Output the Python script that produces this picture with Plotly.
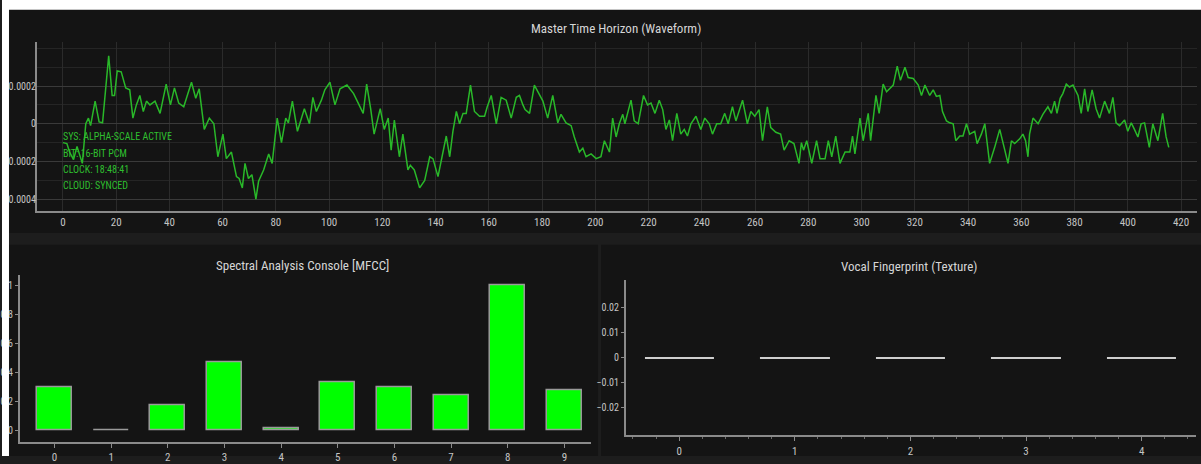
import plotly.graph_objects as go

W, H = 1201, 464

# ---- waveform (time index vs amplitude) ----
wave_t = [
    0.0, 1.5, 2.5, 4.0, 5.3, 7.3, 8.6, 9.6, 10.4, 12.1, 13.6, 14.9, 17.2, 18.5, 19.4,
    20.4, 21.9, 23.6, 25.1, 26.3, 27.6, 28.9, 30.2, 31.4, 32.7, 34.6, 36.5, 38.8, 40.4,
    41.9, 43.5, 45.4, 48.3, 49.9, 51.2, 53.1, 55.0, 56.7, 58.2, 60.1, 61.4, 63.3, 65.2,
    66.2, 67.4, 68.4, 69.7, 71.0, 72.5, 73.5, 75.4, 77.3, 78.6, 80.5, 82.1, 83.7, 84.7,
    86.2, 88.1, 89.4, 90.7, 92.6, 93.9, 95.2, 97.1, 98.4, 100.3, 102.2, 104.1, 106.7,
    109.2, 112.8, 114.1, 115.6, 116.9, 119.2, 120.7, 122.2, 123.3, 124.5, 126.4, 127.7,
    129.6, 130.5, 132.0, 134.0, 135.9, 137.8, 139.0, 140.9, 142.8, 144.0, 145.3, 146.5,
    147.8, 149.0, 150.3, 151.5, 153.1, 154.6, 156.5, 158.4, 159.4, 160.9, 162.8, 164.6,
    166.5, 168.4, 170.3, 171.5, 172.8, 173.6, 175.3, 177.1, 178.4, 180.3, 182.1, 184.0,
    185.9, 187.1, 189.0, 190.9, 192.1, 194.0, 195.3, 196.5, 198.4, 200.3, 202.1, 203.4,
    205.3, 206.5, 207.8, 209.0, 210.3, 211.1, 213.4, 214.6, 216.1, 218.1, 219.6, 220.9,
    222.4, 224.0, 225.3, 226.5, 227.8, 229.0, 230.6, 232.1, 233.4, 234.6, 235.9, 237.8,
    239.6, 241.1, 242.8, 244.0, 245.6, 247.1, 248.6, 249.9, 251.5, 252.8, 255.3, 257.1,
    258.4, 259.9, 261.5, 262.8, 264.6, 265.9, 267.8, 269.6, 270.9, 272.8, 274.6, 276.5,
    277.4, 278.2, 279.4, 281.3, 283.1, 284.4, 286.3, 287.5, 288.8, 290.3, 291.9, 293.8,
    295.6, 296.6, 297.5, 299.4, 300.6, 302.5, 303.4, 305.4, 306.6, 308.1, 309.4, 310.6,
    311.9, 313.4, 314.6, 316.3, 317.5, 319.4, 321.3, 322.5, 323.8, 325.6, 326.9, 328.1,
    329.4, 330.4, 331.9, 333.1, 334.4, 335.4, 336.9, 338.1, 339.4, 340.6, 342.5, 343.4,
    345.0, 346.3, 348.1, 350.0, 351.9, 353.8, 355.0, 356.3, 357.5, 359.4, 360.6, 361.6,
    362.5, 363.1, 364.4, 366.3, 368.1, 370.0, 371.3, 372.5, 373.4, 374.6, 375.6, 376.9,
    378.1, 379.4, 381.3, 382.5, 383.8, 385.0, 386.6, 388.1, 389.4, 391.3, 393.1, 394.4,
    395.6, 396.9, 398.8, 400.0, 401.3, 402.5, 403.8, 405.0, 406.3, 408.1, 409.4, 411.3,
    413.1, 414.4, 415.4,
]
wave_amp = [
    -1.0e-4, -1.05e-4, -1.5e-4, -1.9e-4, -1.2e-4, -2.1e-4, 0.0, 0.3e-4, -0.1e-4, 1.2e-4,
    0.1e-4, 0.05e-4, 3.6e-4, 1.5e-4, 1.5e-4, 2.8e-4, 2.75e-4, 1.9e-4, 1.8e-4, 0.3e-4,
    1.0e-4, 1.5e-4, 0.65e-4, 1.2e-4, 1.0e-4, 1.2e-4, 0.55e-4, 2.1e-4, 1.0e-4, 1.9e-4,
    1.1e-4, 0.9e-4, 2.2e-4, 1.35e-4, 1.85e-4, -0.3e-4, 0.3e-4, 0.0, -1.75e-4, -0.55e-4,
    -1.85e-4, -1.5e-4, -2.8e-4, -2.9e-4, -3.4e-4, -2.1e-4, -2.9e-4, -2.7e-4, -4.0e-4,
    -3.05e-4, -2.45e-4, -1.6e-4, -2.1e-4, 0.3e-4, -1.0e-4, 0.3e-4, 0.05e-4, 1.2e-4,
    -0.4e-4, 0.15e-4, 0.8e-4, 0.0, 1.4e-4, 0.65e-4, 1.25e-4, 1.8e-4, 2.2e-4, 1.0e-4,
    1.85e-4, 2.05e-4, 1.6e-4, 0.55e-4, 2.1e-4, 0.8e-4, -0.55e-4, 0.8e-4, -0.3e-4, 0.3e-4,
    -1.4e-4, 0.2e-4, -1.75e-4, -0.55e-4, -2.45e-4, -2.2e-4, -2.45e-4, -3.4e-4, -3.0e-4,
    -1.75e-4, -1.85e-4, -2.8e-4, -1.4e-4, -0.65e-4, -1.75e-4, -0.4e-4, 0.65e-4, 0.0,
    0.55e-4, 0.55e-4, 2.05e-4, 0.65e-4, 0.4e-4, 0.4e-4, 0.9e-4, 1.5e-4, 0.0, 1.4e-4,
    1.25e-4, 0.3e-4, 1.4e-4, 1.5e-4, 1.0e-4, 0.75e-4, 0.55e-4, 2.05e-4, 1.7e-4, 1.2e-4,
    0.3e-4, 1.5e-4, 0.05e-4, 0.5e-4, 0.05e-4, -0.1e-4, -0.7e-4, -1.5e-4, -1.3e-4,
    -1.75e-4, -1.6e-4, -1.85e-4, -1.75e-4, -0.9e-4, -1.5e-4, 0.3e-4, -0.7e-4, 0.0,
    0.5e-4, 0.0, 1.25e-4, 0.15e-4, 0.0, 1.5e-4, 1.0e-4, 1.1e-4, 0.55e-4, 1.25e-4,
    0.75e-4, -0.3e-4, 0.2e-4, -0.9e-4, 0.55e-4, -0.55e-4, -0.3e-4, -0.65e-4, 0.0,
    0.4e-4, -0.3e-4, 0.3e-4, 0.0, -0.55e-4, 0.0, 0.0, 0.55e-4, 0.0, 0.9e-4, 0.15e-4,
    1.25e-4, 0.0, 0.65e-4, 0.4e-4, 0.75e-4, -0.9e-4, 0.9e-4, -0.2e-4, -0.45e-4,
    -0.55e-4, -1.4e-4, -0.9e-4, -1.05e-4, -2.1e-4, -1.0e-4, -1.4e-4, -0.9e-4, -2.1e-4,
    -0.9e-4, -1.85e-4, -1.85e-4, -0.9e-4, -1.75e-4, -0.65e-4, -2.1e-4, -1.5e-4, -1.5e-4,
    -0.65e-4, -1.6e-4, 0.3e-4, -0.9e-4, 0.55e-4, -0.9e-4, 1.5e-4, 0.55e-4, 2.1e-4,
    1.7e-4, 1.85e-4, 2.05e-4, 3.05e-4, 2.3e-4, 3.0e-4, 2.45e-4, 2.4e-4, 2.05e-4, 1.5e-4,
    2.05e-4, 1.5e-4, 1.8e-4, 1.45e-4, 1.5e-4, 0.65e-4, 0.15e-4, 0.05e-4, 0.0, -0.9e-4,
    -0.65e-4, -0.65e-4, 0.0, -0.55e-4, -0.4e-4, -1.05e-4, -0.55e-4, 0.0, -2.1e-4,
    -1.25e-4, -0.3e-4, -1.4e-4, -2.1e-4, -0.9e-4, -1.05e-4, -0.8e-4, -0.55e-4, -0.9e-4,
    -1.75e-4, -0.55e-4, 0.3e-4, 0.0, 0.5e-4, 0.9e-4, 0.55e-4, 1.2e-4, 0.55e-4, 1.35e-4,
    1.6e-4, 2.1e-4, 1.95e-4, 2.05e-4, 1.5e-4, 0.55e-4, 1.85e-4, 0.65e-4, 1.8e-4, 0.8e-4,
    0.3e-4, 1.2e-4, 0.55e-4, 1.4e-4, 0.05e-4, -0.1e-4, 0.2e-4, -0.4e-4, 0.05e-4,
    -0.3e-4, -0.7e-4, 0.0, 0.05e-4, -1.25e-4, 0.0, -0.9e-4, 0.55e-4, -0.7e-4, -1.25e-4,
]
wave_ticks = [-4e-4, -2e-4, 0, 2e-4]

# ---- MFCC coefficients ----
mfcc_idx = [0, 1, 2, 3, 4, 5, 6, 7, 8, 9]
mfcc_val = [0.30, 0.005, 0.175, 0.47, 0.016, 0.33, 0.30, 0.245, 1.0, 0.28]

# ---- texture bins ----
texture_idx = [0, 1, 2, 3, 4]
texture_val = [0, 0, 0, 0, 0]
texture_ticks = [-0.02, -0.01, 0, 0.01, 0.02]

status_lines = ["SYS: ALPHA-SCALE ACTIVE", "BIT: 16-BIT PCM", "CLOCK: 18:48:41", "CLOUD: SYNCED"]

FONT = "Roboto Condensed, DejaVu Sans Condensed, sans-serif"
TICK = dict(family=FONT, size=11, color="#c4c4c4")
YTICK = dict(family=FONT, size=10, color="#c4c4c4")
TITLE = dict(family=FONT, size=13, color="#d6d6d6")
PANEL = "#141414"
GAP = "#1d1d1d"
AXLINE = "#8a8a8a"


def px(x):
    return x / W


def py(y):
    return 1 - y / H


fig = go.Figure()

fig.add_trace(go.Scatter(
    x=wave_t, y=wave_amp, mode="lines",
    line=dict(color="#29b829", width=1.5),
    xaxis="x", yaxis="y", showlegend=False,
))
fig.add_trace(go.Bar(
    x=mfcc_idx, y=mfcc_val, width=0.62,
    marker=dict(color="#00ff00", line=dict(color="#9a9a9a", width=1.5)),
    xaxis="x2", yaxis="y2", showlegend=False,
))
fig.add_trace(go.Bar(
    x=texture_idx, y=texture_val, width=0.6,
    marker=dict(color="#cfcfcf", line=dict(color="#cfcfcf", width=2)),
    xaxis="x3", yaxis="y3", showlegend=False,
))

shapes = [
    # panel backgrounds
    dict(type="rect", xref="paper", yref="paper", x0=px(7), x1=px(W), y0=py(237), y1=py(10),
         fillcolor=PANEL, line_width=0, layer="below"),
    dict(type="rect", xref="paper", yref="paper", x0=px(7), x1=px(597), y0=py(H), y1=py(249),
         fillcolor=PANEL, line_width=0, layer="below"),
    dict(type="rect", xref="paper", yref="paper", x0=px(600), x1=px(W), y0=py(H), y1=py(249),
         fillcolor=PANEL, line_width=0, layer="below"),
    # page frame outside the dashboard
    dict(type="rect", xref="paper", yref="paper", x0=0, x1=1, y0=py(10), y1=1,
         fillcolor="#ffffff", line_width=0, layer="above"),
    dict(type="rect", xref="paper", yref="paper", x0=0, x1=px(7), y0=0, y1=1,
         fillcolor="#ffffff", line_width=0, layer="above"),
]

annotations = [
    dict(text="Master Time Horizon (Waveform)", xref="paper", yref="paper",
         x=px(615), y=py(29), showarrow=False, font=TITLE, xanchor="center", yanchor="middle"),
    dict(text="Spectral Analysis Console [MFCC]", xref="paper", yref="paper",
         x=px(301), y=py(270), showarrow=False, font=TITLE, xanchor="center", yanchor="middle"),
    dict(text="Vocal Fingerprint (Texture)", xref="paper", yref="paper",
         x=px(909), y=py(271), showarrow=False, font=TITLE, xanchor="center", yanchor="middle"),
]
for i, line in enumerate(status_lines):
    annotations.append(dict(
        text=line, xref="paper", yref="paper", x=px(59), y=py(139 + 16.7 * i),
        showarrow=False, xanchor="left", yanchor="middle",
        font=dict(family=FONT, size=10, color="#2fbf2f"),
    ))

fig.update_layout(
    width=W, height=H,
    margin=dict(l=0, r=0, t=0, b=0),
    paper_bgcolor=GAP, plot_bgcolor="rgba(0,0,0,0)",
    bargap=0, showlegend=False,
    shapes=shapes, annotations=annotations,
    # waveform axes
    xaxis=dict(domain=[px(35), px(1197)], range=[-9.75, 426], anchor="y",
               tick0=0, dtick=20, showgrid=True, gridcolor="#2b2b2b", gridwidth=1,
               showline=True, linecolor=AXLINE, linewidth=2, zeroline=False,
               ticks="", tickfont=TICK),
    xaxis4=dict(domain=[px(35), px(1197)], range=[-9.75, 426], anchor="y", overlaying="x",
                tick0=0, dtick=200, showgrid=True, gridcolor="#4a4a4a", gridwidth=1,
                showticklabels=False, showline=False, zeroline=False, ticks=""),
    yaxis=dict(domain=[py(215), py(43)], range=[-4.64e-4, 4.32e-4], anchor="x",
               tickvals=wave_ticks, tickformat=".4~f", showgrid=True, gridcolor="#3a3a3a",
               minor=dict(dtick=1e-4, tick0=0, showgrid=True, gridcolor="#252525"),
               showline=True, linecolor=AXLINE, linewidth=2, zeroline=False,
               ticks="", tickfont=YTICK, ticklabelstandoff=-3),
    # MFCC axes
    xaxis2=dict(domain=[px(18), px(590)], range=[-0.61, 9.47], anchor="y2",
                tick0=0, dtick=1, showgrid=False, zeroline=False,
                showline=True, linecolor=AXLINE, linewidth=2,
                ticks="outside", ticklen=4, tickcolor=AXLINE, tickfont=TICK),
    yaxis2=dict(domain=[py(450), py(280)], range=[-0.081, 1.068], anchor="x2",
                tick0=0, dtick=0.2, showgrid=False, zeroline=False,
                showline=True, linecolor=AXLINE, linewidth=2,
                ticks="outside", ticklen=3, tickcolor=AXLINE, tickfont=YTICK),
    # texture axes
    xaxis3=dict(domain=[px(625), px(1196)], range=[-0.46, 4.47], anchor="y3",
                tick0=0, dtick=1, showgrid=False, zeroline=False,
                showline=True, linecolor=AXLINE, linewidth=2,
                ticks="outside", ticklen=4, tickcolor=AXLINE, tickfont=TICK,
                minor=dict(dtick=0.2, ticks="outside", ticklen=2, tickcolor="#6a6a6a")),
    yaxis3=dict(domain=[py(443), py(285)], range=[-0.031, 0.031], anchor="x3",
                tickvals=texture_ticks, showgrid=False, zeroline=False,
                showline=True, linecolor=AXLINE, linewidth=2,
                ticks="outside", ticklen=3, tickcolor=AXLINE, tickfont=YTICK),
)

fig.write_html("out.html")
